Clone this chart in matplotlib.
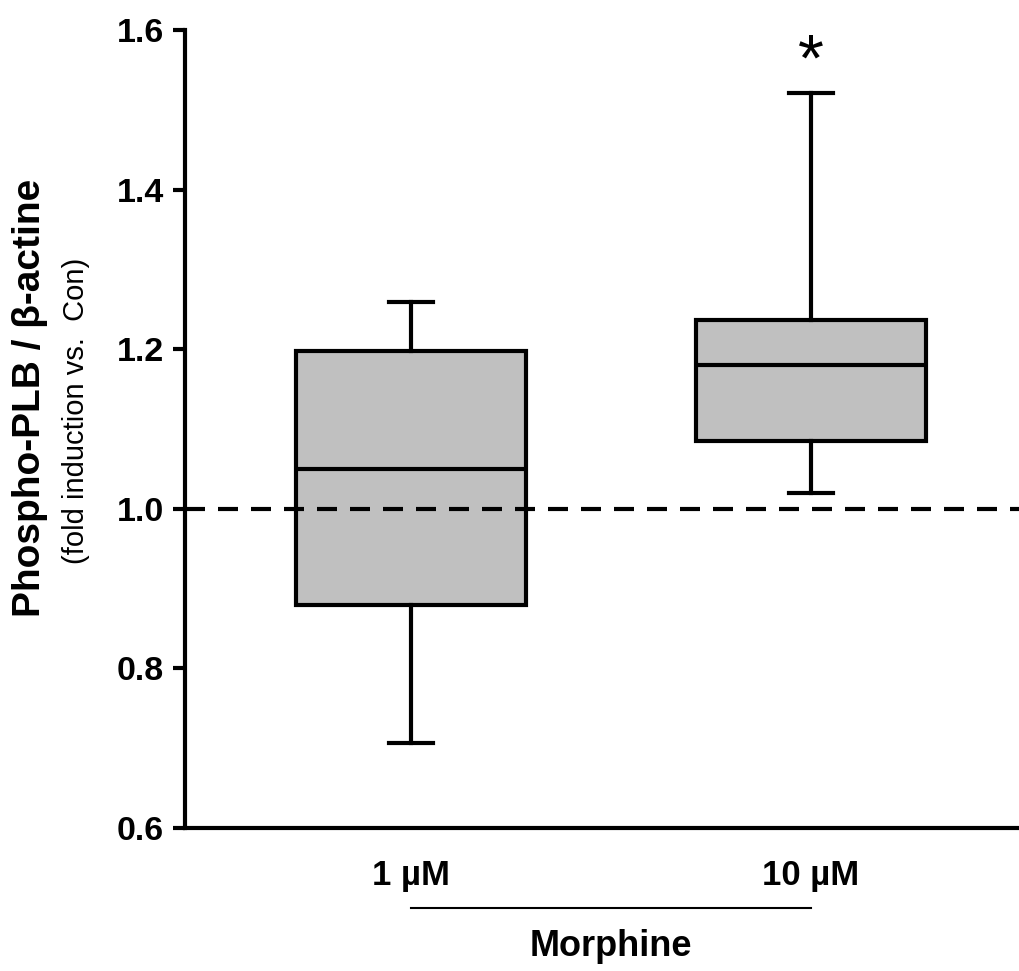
import matplotlib
matplotlib.use("Agg")
import matplotlib.pyplot as plt
import matplotlib.transforms as mtransforms

# ---- data ----
categories = ["1 µM", "10 µM"]
whislo = [0.706, 1.020]
q1 = [0.880, 1.085]
med = [1.050, 1.180]
q3 = [1.198, 1.237]
whishi = [1.259, 1.521]
significance = ["", "*"]
yticks = [0.6, 0.8, 1.0, 1.2, 1.4, 1.6]
ytick_labels = ["0.6", "0.8", "1.0", "1.2", "1.4", "1.6"]
reference_level = 1.0
group_label = "Morphine"

plt.rcParams['font.family'] = ['Liberation Sans', 'DejaVu Sans']

fig = plt.figure(figsize=(10.19, 9.71), dpi=100)
ax = fig.add_axes([185/1019, 1-828/971, 1-185/1019, (828-30)/971])

positions = [1, 2]
stats = []
for i in range(len(categories)):
    stats.append(dict(whislo=whislo[i], q1=q1[i], med=med[i], q3=q3[i],
                      whishi=whishi[i], fliers=[], label=categories[i]))

lw = 3.0
ax.bxp(stats, positions=positions, widths=0.575, capwidths=0.11,
       patch_artist=True, showfliers=False,
       boxprops=dict(facecolor="#c0c0c0", edgecolor="black", linewidth=lw),
       medianprops=dict(color="black", linewidth=lw),
       whiskerprops=dict(color="black", linewidth=lw),
       capprops=dict(color="black", linewidth=lw))

ax.axhline(reference_level, color="black", linewidth=lw,
           linestyle=(0, (20*0.72/lw, 13*0.72/lw)), zorder=5)

for p, s, top in zip(positions, significance, whishi):
    if s:
        ax.annotate(s, xy=(p, top), xytext=(0, 9), textcoords="offset points",
                    ha="center", va="baseline", fontsize=48, fontweight="normal")

ax.set_xlim(0.435, 2.52)
ax.set_ylim(0.6, 1.6)
ax.set_yticks(yticks)
ax.set_yticklabels(ytick_labels, fontsize=24.5, fontweight="bold")
ax.set_xticks(positions)
ax.set_xticklabels(categories, fontsize=25, fontweight="bold")
ax.tick_params(axis="y", length=9, width=lw, pad=6)
ax.tick_params(axis="x", length=0, pad=22)

for side in ["top", "right"]:
    ax.spines[side].set_visible(False)
for side in ["left", "bottom"]:
    ax.spines[side].set_linewidth(lw)
ax.spines["left"].set_capstyle("projecting")

trans = mtransforms.blended_transform_factory(ax.transData, ax.transAxes)
ax.plot([positions[0], positions[-1]], [-0.1003, -0.1003], transform=trans,
        color="black", linewidth=1.5, clip_on=False)
ax.text(sum(positions)/2, -0.149, group_label, transform=trans,
        ha="center", va="center", fontsize=26, fontweight="bold")

fig.text(30/1019, 1-398/971, "Phospho-PLB / β-actine", rotation=90,
         ha="center", va="center", fontsize=28, fontweight="bold")
fig.text(76/1019, 1-411/971, "(fold induction vs.  Con)", rotation=90,
         ha="center", va="center", fontsize=21)

fig.savefig("out.png", dpi=100)
